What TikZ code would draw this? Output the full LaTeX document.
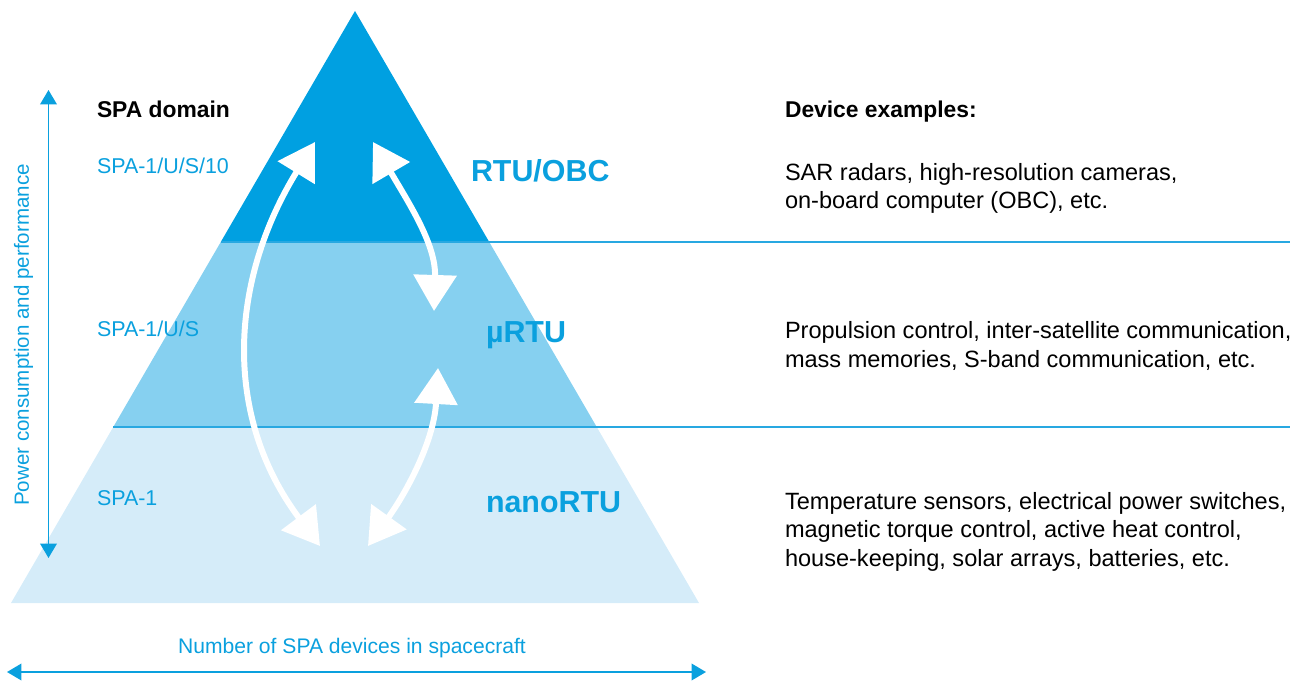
\documentclass[tikz,border=0pt]{standalone}
\usepackage{fontspec}
\setmainfont{Liberation Sans}
\usetikzlibrary{arrows.meta}
\definecolor{spadark}{RGB}{0,160,225}
\definecolor{spamid}{RGB}{134,208,240}
\definecolor{spalight}{RGB}{213,236,249}
\definecolor{spablue}{RGB}{10,160,222}
\definecolor{spaline}{RGB}{40,168,225}
\begin{document}
\begin{tikzpicture}[x=0.02cm,y=-0.02cm]
    \tikzstyle{every node}=[inner sep=0pt, outer sep=0pt]
    \tikzstyle{bandline}=[spaline, line width=0.9pt]
    \tikzstyle{axisarrow}=[spablue, line width=1.1pt, {Triangle[length=8.2pt,width=9.4pt]}-{Triangle[length=8.2pt,width=9.4pt]}]
    \tikzstyle{updown}=[white, line width=3.4pt, {Triangle[length=20.5pt,width=24pt]}-{Triangle[length=20.5pt,width=24pt]}]
    \tikzstyle{spahead}=[anchor=base west, font=\bfseries\fontsize{13}{15}\selectfont]
    \tikzstyle{spaclass}=[anchor=base west, text=spablue, font=\fontsize{12.2}{14}\selectfont]
    \tikzstyle{spalevel}=[anchor=base west, text=spablue, font=\bfseries\fontsize{17.3}{20}\selectfont]
    \tikzstyle{spadevice}=[anchor=base west, align=left, font=\fontsize{13.4}{16.2}\selectfont]
    \tikzstyle{axislabel}=[anchor=base, text=spablue, font=\fontsize{12}{14}\selectfont]

    \useasboundingbox (0,0) rectangle (1298,682);

    \coordinate (top) at (355,11);
    \coordinate (bl) at (11,603);
    \coordinate (br) at (699,603);

    \begin{scope}
        \clip (top) -- (bl) -- (br) -- cycle;
        \fill[spalight] (0,427) rectangle (700,610);
        \fill[spamid] (0,242) rectangle (700,427);
        \fill[spadark] (0,0) rectangle (700,242);
    \end{scope}

    \coordinate (cut1) at (220.8,242);
    \coordinate (end1) at (1290,242);
    \coordinate (cut2) at (113.3,427);
    \coordinate (end2) at (1290,427);
    \draw[bandline] (cut1) -- (end1);
    \draw[bandline] (cut2) -- (end2);

    \coordinate (ptop) at (48.5,90);
    \coordinate (pbot) at (48.5,558);
    \coordinate (nleft) at (7,672);
    \coordinate (nright) at (706,672);
    \draw[axisarrow] (ptop) -- (pbot);
    \draw[axisarrow] (nleft) -- (nright);

    \node[axislabel, rotate=90, font=\fontsize{11.7}{14}\selectfont] (power) at (29,335) {Power consumption and performance};
    \node[axislabel] (number) at (352,653) {Number of SPA devices in spacecraft};

    \node[spahead] (domhead) at (97,118) {SPA domain};
    \node[spaclass] (dom10) at (97,174) {SPA-1/U/S/10};
    \node[spaclass] (domus) at (97,336) {SPA-1/U/S};
    \node[spaclass] (dom1) at (97,505) {SPA-1};

    \node[spalevel] (rtu) at (471,182) {RTU/OBC};
    \node[spalevel] (murtu) at (486,342) {µRTU};
    \node[spalevel] (nano) at (486,512) {nanoRTU};

    \node[spahead] (devhead) at (785,118) {Device examples:};
    \node[spadevice] (devrtu) at (785,209) {SAR radars, high-resolution cameras,\\on-board computer (OBC), etc.};
    \node[spadevice] (devmu) at (785,367) {Propulsion control, inter-satellite communication,\\mass memories, S-band communication, etc.};
    \node[spadevice] (devnano) at (785,566) {Temperature sensors, electrical power switches,\\magnetic torque control, active heat control,\\house-keeping, solar arrays, batteries, etc.};

    \coordinate (a1) at (315,142);
    \coordinate (a2) at (320,546);
    \coordinate (b1) at (373,142);
    \coordinate (b2) at (434,311);
    \coordinate (c1) at (438,368);
    \coordinate (c2) at (368,546);
    \draw[updown] (a1) .. controls (230,280) and (222,415) .. (a2);
    \draw[updown] (b1) .. controls (410,205) and (436,245) .. (b2);
    \draw[updown] (c1) .. controls (434,440) and (408,490) .. (c2);
\end{tikzpicture}
\end{document}
